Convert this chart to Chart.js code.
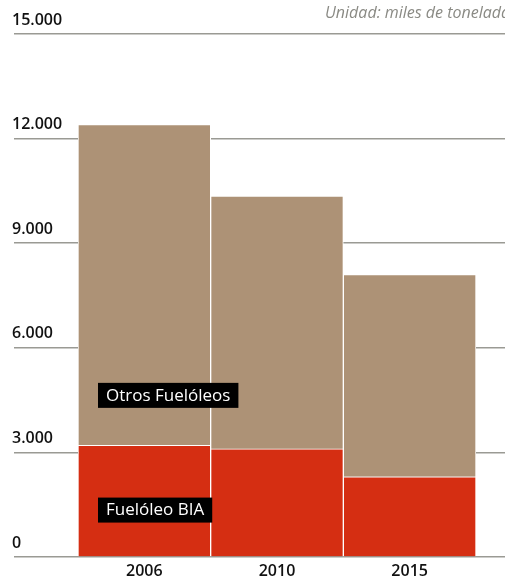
<!DOCTYPE html>
<html>
<head>
<meta charset="utf-8">
<script src="https://cdn.jsdelivr.net/npm/chart.js@4"></script>
<style>
    body { margin: 0; background: #fff; }
    .wrap { position: relative; width: 505px; height: 578px; overflow: hidden; }
    .unit {
        position: absolute; left: 325px; top: 1px; white-space: nowrap;
        font-family: "Open Sans", sans-serif; font-style: italic; font-size: 16px; color: #8a8a84;
    }
</style>
</head>
<body>
<div class="wrap">
    <canvas id="chart" width="505" height="578"></canvas>
    <div class="unit">Unidad: miles de toneladas</div>
</div>
<script>
const years = ['2006', '2010', '2015'];
const fueloleoBIA = [3200, 3100, 2300];
const otrosFueloleos = [9200, 7250, 5800];
const yTicks = [0, 3000, 6000, 9000, 12000, 15000];

// label boxes sitting on the first bar
const seriesLabels = [
    { text: 'Fuelóleo BIA', value: 1360 },
    { text: 'Otros Fuelóleos', value: 4650 }
];

const gridColor = '#9a9a94';
const fontFamily = '"Open Sans", sans-serif';

const labelBoxes = {
    id: 'labelBoxes',
    afterDatasetsDraw(chart) {
        const ctx = chart.ctx;
        const bar = chart.getDatasetMeta(0).data[0];
        const left = bar.x - bar.width / 2 + 20;
        ctx.save();
        ctx.font = '17px ' + fontFamily;
        ctx.textBaseline = 'middle';
        seriesLabels.forEach(l => {
            const y = chart.scales.y.getPixelForValue(l.value);
            const w = ctx.measureText(l.text).width + 16;
            ctx.fillStyle = '#000';
            ctx.fillRect(left, y - 12, w, 25);
            ctx.fillStyle = '#fff';
            ctx.fillText(l.text, left + 8, y + 1);
        });
        ctx.restore();
    }
};

new Chart(document.getElementById('chart'), {
    type: 'bar',
    data: {
        labels: years,
        datasets: [{
            label: 'Fuelóleo BIA',
            data: fueloleoBIA,
            backgroundColor: '#d52e12',
            borderColor: '#ffffff',
            borderWidth: 1
        }, {
            label: 'Otros Fuelóleos',
            data: otrosFueloleos,
            backgroundColor: '#ad9276',
            borderColor: '#ffffff',
            borderWidth: 1
        }]
    },
    options: {
        responsive: false,
        animation: false,
        layout: { padding: { left: 12, top: 34, right: 0, bottom: 0 } },
        datasets: { bar: { barPercentage: 1, categoryPercentage: 1 } },
        plugins: { legend: { display: false }, tooltip: { enabled: false } },
        scales: {
            x: {
                stacked: true,
                grid: { display: false },
                border: { display: false },
                ticks: { color: '#111', font: { family: fontFamily, size: 16, weight: '600' }, padding: -3 },
                afterFit: s => { s.height = 21; }
            },
            y: {
                stacked: true,
                min: 0,
                max: 15000,
                afterBuildTicks: s => { s.ticks = yTicks.map(v => ({ value: v })); },
                grid: { color: gridColor, lineWidth: 1.5, tickLength: 64 },
                border: { display: false },
                ticks: {
                    crossAlign: 'far',
                    labelOffset: -14,
                    color: '#111',
                    font: { family: fontFamily, size: 16, weight: '600' },
                    callback: v => v.toLocaleString('es-ES', { useGrouping: true }).replace(/\s/g, '.')
                },
                afterFit: s => { s.width = 66; }
            },
            y2: {
                position: 'right',
                min: 0,
                max: 15000,
                afterBuildTicks: s => { s.ticks = yTicks.map(v => ({ value: v })); },
                grid: { color: gridColor, lineWidth: 1.5, tickLength: 29, drawOnChartArea: false },
                border: { display: false },
                ticks: { display: false },
                afterFit: s => { s.width = 29; }
            }
        }
    },
    plugins: [labelBoxes]
});
</script>
</body>
</html>
